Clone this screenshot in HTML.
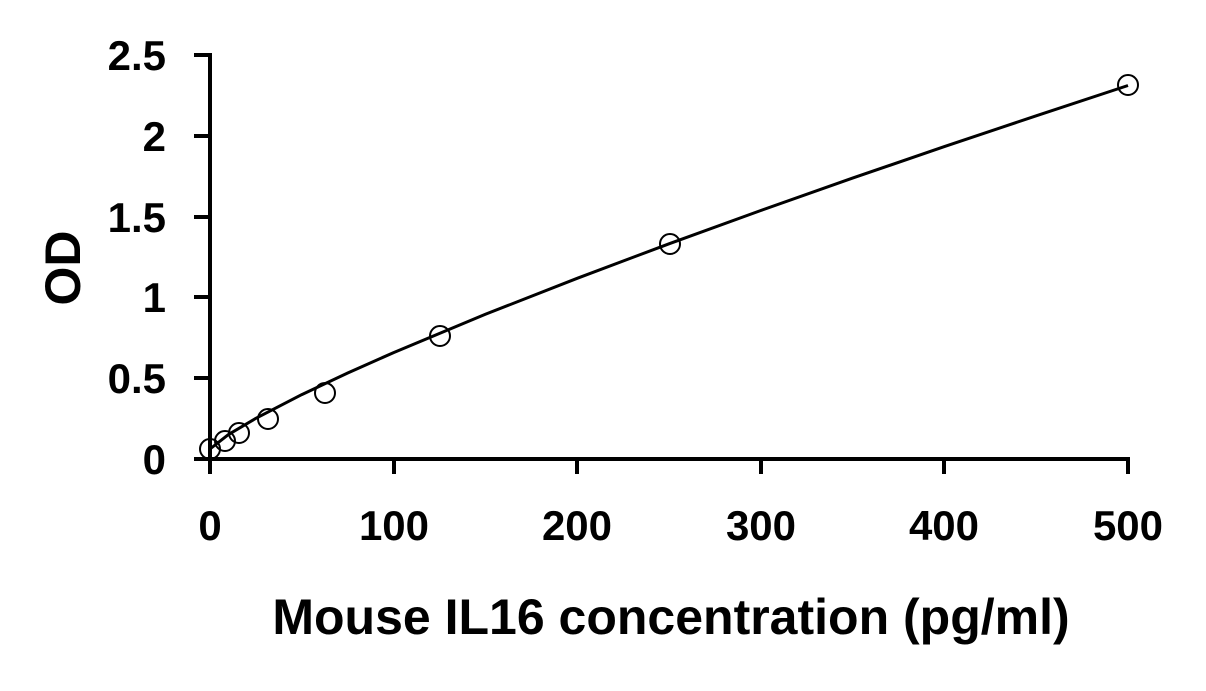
<!DOCTYPE html>
<html><head><style>html,body{margin:0;padding:0;background:#fff}</style></head>
<body>
<svg width="1206" height="686" xmlns="http://www.w3.org/2000/svg" font-family="Liberation Sans, sans-serif" font-weight="bold">
<rect width="1206" height="686" fill="#fff"/>
<g stroke="#000" stroke-width="4" fill="none">
<line x1="210" y1="53" x2="210" y2="461"/>
<line x1="194" y1="459" x2="1130" y2="459"/>
<line x1="194" y1="55" x2="210" y2="55"/>
<line x1="194" y1="136" x2="210" y2="136"/>
<line x1="194" y1="217" x2="210" y2="217"/>
<line x1="194" y1="297" x2="210" y2="297"/>
<line x1="194" y1="378" x2="210" y2="378"/>
<line x1="210" y1="459" x2="210" y2="474"/>
<line x1="394" y1="459" x2="394" y2="474"/>
<line x1="577" y1="459" x2="577" y2="474"/>
<line x1="761" y1="459" x2="761" y2="474"/>
<line x1="944" y1="459" x2="944" y2="474"/>
<line x1="1128" y1="459" x2="1128" y2="474"/>
</g>
<g font-size="42" text-anchor="end">
<text x="166" y="70">2.5</text>
<text x="166" y="151">2</text>
<text x="166" y="232">1.5</text>
<text x="166" y="312">1</text>
<text x="166" y="393">0.5</text>
<text x="166" y="474">0</text>
</g>
<g font-size="42" text-anchor="middle">
<text x="210" y="540">0</text>
<text x="394" y="540">100</text>
<text x="577" y="540">200</text>
<text x="761" y="540">300</text>
<text x="944" y="540">400</text>
<text x="1128" y="540">500</text>
</g>
<text x="671" y="634" font-size="50" text-anchor="middle">Mouse IL16 concentration (pg/ml)</text>
<text transform="translate(80,268) rotate(-90)" font-size="50" text-anchor="middle">OD</text>
<polyline points="210,449 228.4,434.6 255.9,418.3 301.8,394.6 347.7,373 393.6,352.6 485.4,314.3 577.2,278.3 669,243.8 760.8,210.5 852.6,178.1 944.4,146.6 1036.2,115.8 1128,85.5" stroke="#000" stroke-width="3" fill="none" stroke-linejoin="round"/>
<g stroke="#000" stroke-width="2" fill="none">
<circle cx="210" cy="449" r="10"/>
<circle cx="225" cy="441" r="10"/>
<circle cx="239" cy="433" r="10"/>
<circle cx="268" cy="419" r="10"/>
<circle cx="325" cy="393" r="10"/>
<circle cx="440" cy="336" r="10"/>
<circle cx="670" cy="244" r="10"/>
<circle cx="1128" cy="85" r="10"/>
</g>
</svg>
</body></html>
